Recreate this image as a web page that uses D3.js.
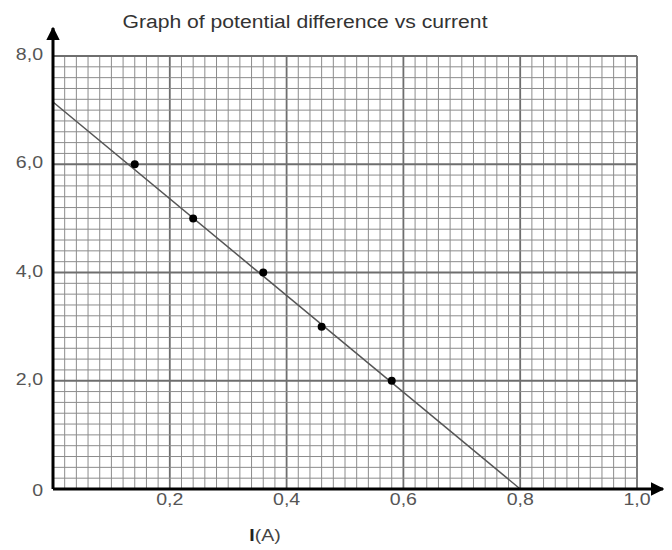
<!DOCTYPE html>
<html>
<head>
<meta charset="utf-8">
<script src="https://cdn.jsdelivr.net/npm/d3@7"></script>
<style>
  body { margin: 0; background: #fff; }
  text { font-family: "Liberation Sans", Arial, sans-serif; }
</style>
</head>
<body>
<svg id="chart" width="672" height="550"></svg>
<script>
// measured points (current in A, p.d. in V)
const current = [0.14, 0.24, 0.36, 0.46, 0.58];
const voltage = [6.0, 5.0, 4.0, 3.0, 2.0];
// best fit line drawn by hand
const fitCurrent = [0, 0.8];
const fitVoltage = [7.15, 0];
const xTicks = [0.2, 0.4, 0.6, 0.8, 1.0];
const yTicks = [0, 2, 4, 6, 8];

const svg = d3.select("#chart");
const x = d3.scaleLinear().domain([0, 1]).range([53, 637]);
const y = d3.scaleLinear().domain([0, 8]).range([489, 56]);
const fmt = d => d === 0 ? "0" : d3.format(".1f")(d).replace(".", ",");
// the scanned picture is a bit wider than tall, so stretch the text
const stretch = (px, py) => "translate(" + px + "," + py + ") scale(1.15,1)";

// grid
const g = svg.append("g");
g.selectAll(".vx")
  .data(d3.range(1, 51).map(i => i * 0.02))
  .enter().append("line")
  .attr("x1", d => x(d)).attr("x2", d => x(d))
  .attr("y1", y(0)).attr("y2", y(8))
  .attr("stroke", d => Math.round(d * 50) % 10 === 0 ? "#6e6e6e" : "#8c8c8c")
  .attr("stroke-width", d => Math.round(d * 50) % 10 === 0 ? 1.8 : 1);
g.selectAll(".hy")
  .data(d3.range(1, 41).map(i => i * 0.2))
  .enter().append("line")
  .attr("y1", d => y(d)).attr("y2", d => y(d))
  .attr("x1", x(0)).attr("x2", x(1))
  .attr("stroke", d => Math.round(d * 5) % 10 === 0 ? "#6e6e6e" : "#8c8c8c")
  .attr("stroke-width", d => Math.round(d * 5) % 10 === 0 ? 1.8 : 1);

// fit line
svg.append("line")
  .attr("x1", x(fitCurrent[0])).attr("y1", y(fitVoltage[0]))
  .attr("x2", x(fitCurrent[1])).attr("y2", y(fitVoltage[1]))
  .attr("stroke", "#555").attr("stroke-width", 1.5);

// points
svg.selectAll(".pt")
  .data(current.map((c, i) => [c, voltage[i]]))
  .enter().append("circle")
  .attr("cx", d => x(d[0])).attr("cy", d => y(d[1]))
  .attr("r", 4).attr("fill", "#000");

// axes with arrows
svg.append("defs").append("marker")
  .attr("id", "arr").attr("viewBox", "0 0 10 10")
  .attr("refX", 9).attr("refY", 5)
  .attr("markerWidth", 4.5).attr("markerHeight", 4.5)
  .attr("orient", "auto")
  .append("path").attr("d", "M0,0 L10,5 L0,10 Z").attr("fill", "#000");

svg.append("line")
  .attr("x1", x(0)).attr("y1", y(0)).attr("x2", x(0)).attr("y2", 28)
  .attr("stroke", "#000").attr("stroke-width", 3).attr("marker-end", "url(#arr)");
svg.append("line")
  .attr("x1", x(0)).attr("y1", y(0)).attr("x2", 663).attr("y2", y(0))
  .attr("stroke", "#000").attr("stroke-width", 3).attr("marker-end", "url(#arr)");

// tick labels
svg.selectAll(".xl")
  .data(xTicks).enter().append("text")
  .attr("transform", d => stretch(x(d), 505))
  .attr("text-anchor", "middle")
  .attr("font-size", 17).attr("fill", "#555")
  .text(fmt);
svg.selectAll(".yl")
  .data(yTicks).enter().append("text")
  .attr("transform", d => stretch(43, y(d) + (d === 0 ? 7 : 4)))
  .attr("text-anchor", "end")
  .attr("font-size", 17).attr("fill", "#555")
  .text(fmt);

svg.append("text")
  .attr("transform", stretch(265, 541))
  .attr("text-anchor", "middle")
  .attr("font-size", 17).attr("fill", "#444")
  .html('<tspan font-weight="bold" fill="#222">I</tspan>(A)');

svg.append("text")
  .attr("x", 305).attr("y", 28)
  .attr("text-anchor", "middle")
  .attr("font-size", 18).attr("fill", "#333")
  .attr("textLength", 365).attr("lengthAdjust", "spacingAndGlyphs")
  .text("Graph of potential difference vs current");
</script>
</body>
</html>
